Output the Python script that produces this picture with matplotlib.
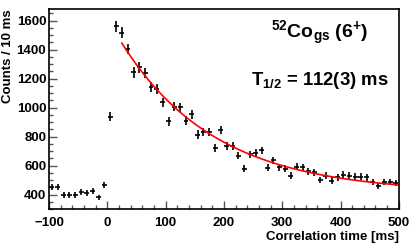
import numpy as np
import matplotlib
matplotlib.use("Agg")
import matplotlib.pyplot as plt
from matplotlib.ticker import MultipleLocator

plt.rcParams['font.family'] = ['Liberation Sans', 'DejaVu Sans']
plt.rcParams['font.weight'] = 'bold'
plt.rcParams['mathtext.fontset'] = 'custom'
plt.rcParams['mathtext.rm'] = 'Liberation Sans:bold'
plt.rcParams['mathtext.it'] = 'Liberation Sans:bold'
plt.rcParams['mathtext.bf'] = 'Liberation Sans:bold'

# bin centres (ms) and counts per 10 ms
time_ms = [-95, -85, -75, -65, -55, -45, -35, -25, -15, -5,
           5, 15, 25, 35, 45, 55, 65, 75, 85, 95,
           105, 115, 125, 135, 145, 155, 165, 175, 185, 195,
           205, 215, 225, 235, 245, 255, 265, 275, 285, 295,
           305, 315, 325, 335, 345, 355, 365, 375, 385, 395,
           405, 415, 425, 435, 445, 455, 465, 475, 485, 495]
counts = [450, 450, 400, 400, 400, 420, 414, 428, 381, 464,
          938, 1561, 1517, 1405, 1243, 1278, 1239, 1145, 1131, 1037,
          906, 1007, 1002, 910, 956, 814, 834, 830, 724, 844,
          734, 734, 669, 580, 678, 690, 705, 586, 636, 588,
          577, 531, 593, 588, 561, 554, 501, 531, 497, 519,
          538, 531, 524, 524, 519, 485, 462, 485, 485, 478]

# fit result: A*exp(-ln2 t / T_half) + B
fit_A = 1206.0
fit_B = 412.0
fit_thalf = 112.0
fit_start, fit_end = 25.0, 500.0

fig = plt.figure(figsize=(4.15, 2.46), dpi=100)
ax = fig.add_axes([0.118, 0.150, 0.843, 0.813])

t = np.array(time_ms, dtype=float)
n = np.array(counts, dtype=float)
ax.errorbar(t, n, xerr=5 * 0.85, yerr=np.sqrt(n), fmt='none',
            ecolor='black', elinewidth=1.2, capsize=0)

tf = np.linspace(fit_start, fit_end, 300)
ax.plot(tf, fit_A * np.exp(-np.log(2) * tf / fit_thalf) + fit_B,
        color='red', lw=1.2)

ax.set_xlim(-100, 500)
ax.set_ylim(300, 1680)
ax.xaxis.set_major_locator(MultipleLocator(100))
ax.xaxis.set_minor_locator(MultipleLocator(20))
ax.yaxis.set_major_locator(MultipleLocator(200))
ax.yaxis.set_minor_locator(MultipleLocator(50))
ax.tick_params(which='both', direction='in', top=False, right=False,
               labelsize=9.5)
ax.tick_params(which='major', length=6, width=1, color='#555555')
ax.tick_params(which='minor', length=3, width=1, color='#555555')
ax.tick_params(axis='x', pad=6)
ax.tick_params(axis='y', pad=2)
for s in ax.spines.values():
    s.set_linewidth(1.2)

ax.set_xlabel("Correlation time [ms]", fontsize=9.5, fontweight='bold',
              loc='right', labelpad=1)
ax.set_ylabel("Counts / 10 ms", fontsize=9.5, fontweight='bold',
              loc='top', labelpad=2)

ax.text(0.774, 0.88, r"$^{52}$Co$_{\mathrm{gs}}$ (6$^{+}$)", transform=ax.transAxes,
        ha='center', va='center', fontsize=14, fontweight='bold')
ax.text(0.774, 0.645, r"T$_{1/2}$ = 112(3) ms", transform=ax.transAxes,
        ha='center', va='center', fontsize=13.3, fontweight='bold')

fig.savefig("out.png", dpi=100)
